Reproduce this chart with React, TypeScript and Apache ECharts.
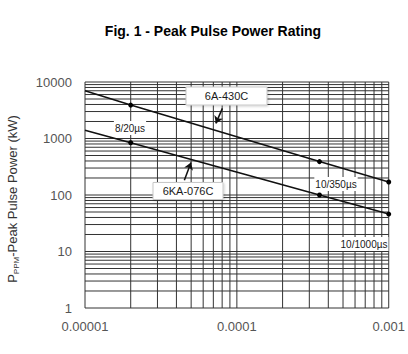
import React, { useEffect, useRef } from "react";
import * as echarts from "echarts";

// Axis ranges and tick labels
const X_MIN = 0.00001;
const X_MAX = 0.001;
const Y_MIN = 1;
const Y_MAX = 10000;
const xTickLabels = ["0.00001", "0.0001", "0.001"];
const yTickLabels = ["1", "10", "100", "1000", "10000"];

// Log grid: decades x multipliers
const xDecades = [0.00001, 0.0001];
const yDecades = [1, 10, 100, 1000];
const gridMultipliers = [1, 2, 3, 4, 5, 6, 7, 8, 9];

// Pulse width (s) vs peak pulse power (kW)
const pulseTimes = [0.00001, 0.00002, 0.00035, 0.001];
const power6A430C = [7000, 3900, 390, 170];
const power6KA076C = [1400, 840, 100, 46];

// Annotation arrows (data coordinates: start, tip)
const arrow6A430C = [[0.0000803, 3420], [0.0000727, 1850]];
const arrow6KA076C = [[0.0000451, 183], [0.0000499, 375]];

const FONT = "Liberation Sans, Arial, sans-serif";

export default function App() {
  const ref = useRef<HTMLDivElement>(null);

  useEffect(() => {
    if (!ref.current) return;
    const chart = echarts.init(ref.current, undefined, { renderer: "svg" });

    const xGrid: number[] = [];
    xDecades.forEach((d) => gridMultipliers.forEach((m) => xGrid.push(d * m)));
    xGrid.push(X_MAX);
    const yGrid: number[] = [];
    yDecades.forEach((d) => gridMultipliers.forEach((m) => yGrid.push(d * m)));
    yGrid.push(Y_MAX);

    const lineData = (vals: number[]) =>
      pulseTimes.map((t, i) => ({
        value: [t, vals[i]],
        symbol: i === 0 ? "none" : "circle",
      }));

    const gridStyle = { stroke: "#333", lineWidth: 1 };

    const boxStyle = {
      fill: "#fff",
      stroke: "#c8c8c8",
      lineWidth: 1,
      shadowBlur: 2,
      shadowColor: "rgba(0,0,0,0.18)",
      shadowOffsetX: 1,
      shadowOffsetY: 1,
    };

    const labelText = (text: string, x: number, y: number, bg: boolean) => ({
      type: "text",
      z: 101,
      x,
      y,
      style: {
        text,
        fontSize: bg ? 10 : 11,
        fontFamily: FONT,
        fill: "#1a1a1a",
        align: "center",
        verticalAlign: "middle",
        backgroundColor: bg ? "#fff" : undefined,
        padding: bg ? [2, 1] : 0,
      },
    });

    chart.setOption({
      animation: false,
      backgroundColor: "#fff",
      grid: { left: 85, right: 17, top: 82, bottom: 46, containLabel: false },
      xAxis: {
        type: "log",
        logBase: 10,
        min: X_MIN,
        max: X_MAX,
        axisLine: { show: false },
        axisTick: { show: false },
        splitLine: { show: false },
        axisLabel: {
          fontSize: 13,
          color: "#555",
          fontFamily: FONT,
          margin: 12,
          formatter: (v: number) => xTickLabels[Math.round(Math.log10(v)) + 5] ?? "",
        },
      },
      yAxis: {
        type: "log",
        logBase: 10,
        min: Y_MIN,
        max: Y_MAX,
        axisLine: { show: false },
        axisTick: { show: false },
        splitLine: { show: false },
        axisLabel: {
          fontSize: 13,
          color: "#555",
          fontFamily: FONT,
          margin: 13,
          formatter: (v: number) => yTickLabels[Math.round(Math.log10(v))] ?? "",
        },
      },
      series: [
        {
          type: "custom",
          silent: true,
          z: 1,
          data: xGrid.map((v) => [v, Y_MIN]),
          renderItem: (_p: any, api: any) => {
            const v = api.value(0);
            const a = api.coord([v, Y_MIN]);
            const b = api.coord([v, Y_MAX]);
            return { type: "line", shape: { x1: a[0], y1: a[1], x2: b[0], y2: b[1] }, style: gridStyle };
          },
        },
        {
          type: "custom",
          silent: true,
          z: 1,
          data: yGrid.map((v) => [X_MIN, v]),
          renderItem: (_p: any, api: any) => {
            const v = api.value(1);
            const a = api.coord([X_MIN, v]);
            const b = api.coord([X_MAX, v]);
            return { type: "line", shape: { x1: a[0], y1: a[1], x2: b[0], y2: b[1] }, style: gridStyle };
          },
        },
        {
          name: "6A-430C",
          type: "line",
          z: 3,
          data: lineData(power6A430C),
          symbolSize: 5,
          itemStyle: { color: "#000" },
          lineStyle: { color: "#111", width: 1.6 },
          markLine: {
            silent: true,
            symbol: ["none", "arrow"],
            symbolSize: 7,
            label: { show: false },
            lineStyle: { color: "#111", width: 1.5, type: "solid" },
            data: [
              [{ coord: arrow6A430C[0] }, { coord: arrow6A430C[1] }],
              [{ coord: arrow6KA076C[0] }, { coord: arrow6KA076C[1] }],
            ],
          },
        },
        {
          name: "6KA-076C",
          type: "line",
          z: 3,
          data: lineData(power6KA076C),
          symbolSize: 5,
          itemStyle: { color: "#000" },
          lineStyle: { color: "#111", width: 1.6 },
        },
      ],
      graphic: [
        {
          type: "text",
          z: 100,
          x: 213,
          y: 31,
          style: {
            text: "Fig. 1 - Peak Pulse Power Rating",
            fontSize: 14,
            fontWeight: "bold",
            fontFamily: FONT,
            fill: "#000",
            align: "center",
            verticalAlign: "middle",
          },
        },
        {
          type: "text",
          z: 100,
          x: 12,
          y: 199,
          rotation: Math.PI / 2,
          style: {
            text: "{a|P}{s|PPM}{a|-Peak Pulse Power (kW)}",
            align: "center",
            verticalAlign: "middle",
            rich: {
              a: { fontSize: 13, fontFamily: FONT, fill: "#333", lineHeight: 16 },
              s: { fontSize: 8, fontFamily: FONT, fill: "#333", lineHeight: 6, verticalAlign: "bottom" },
            },
          },
        },
        { type: "rect", z: 100, shape: { x: 186, y: 87, width: 81, height: 18 }, style: boxStyle },
        labelText("6A-430C", 226.5, 96, false),
        { type: "rect", z: 100, shape: { x: 153, y: 182.5, width: 70, height: 17 }, style: boxStyle },
        labelText("6KA-076C", 188, 191, false),
        labelText("8/20µs", 130, 128, true),
        labelText("10/350µs", 336, 184, true),
        labelText("10/1000µs", 364, 244, true),
      ],
    });

    return () => chart.dispose();
  }, []);

  return <div ref={ref} style={{ position: "fixed", left: 0, top: 0, width: 408, height: 354 }} />;
}
